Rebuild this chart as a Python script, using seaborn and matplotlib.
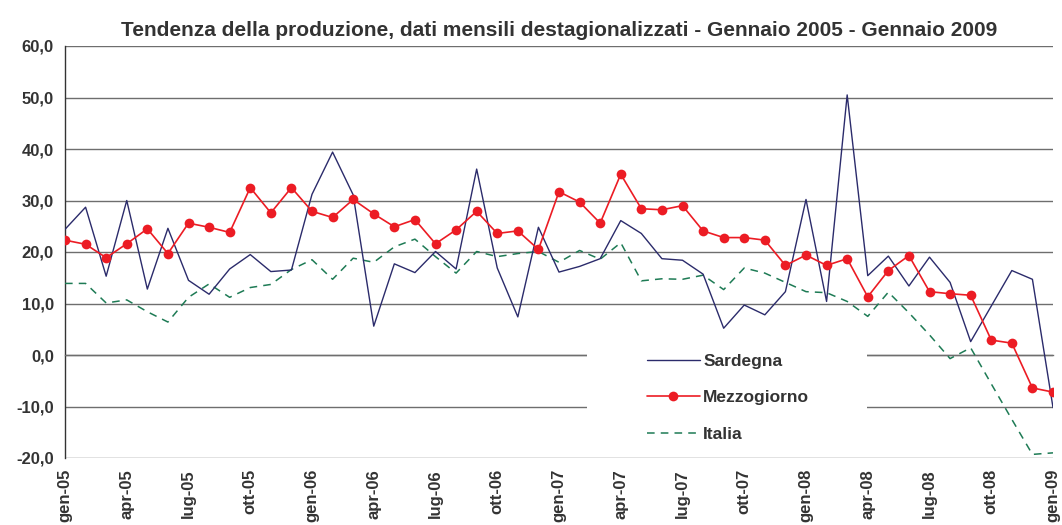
import numpy as np
import pandas as pd
import matplotlib
matplotlib.use("Agg")
import matplotlib.pyplot as plt
from matplotlib.ticker import FixedLocator, FuncFormatter
from matplotlib.patches import Rectangle
import seaborn as sns

months = [
    "gen-05", "feb-05", "mar-05", "apr-05", "mag-05", "giu-05", "lug-05", "ago-05", "set-05", "ott-05", "nov-05", "dic-05",
    "gen-06", "feb-06", "mar-06", "apr-06", "mag-06", "giu-06", "lug-06", "ago-06", "set-06", "ott-06", "nov-06", "dic-06",
    "gen-07", "feb-07", "mar-07", "apr-07", "mag-07", "giu-07", "lug-07", "ago-07", "set-07", "ott-07", "nov-07", "dic-07",
    "gen-08", "feb-08", "mar-08", "apr-08", "mag-08", "giu-08", "lug-08", "ago-08", "set-08", "ott-08", "nov-08", "dic-08",
    "gen-09",
]

sardegna = [24.4, 28.7, 15.3, 30.0, 12.8, 24.6, 14.5, 11.8, 16.7, 19.5, 16.2, 16.5,
            31.2, 39.4, 31.1, 5.6, 17.7, 16.0, 20.1, 16.7, 36.1, 16.9, 7.4, 24.8,
            16.1, 17.2, 18.7, 26.1, 23.6, 18.7, 18.4, 15.7, 5.2, 9.7, 7.8, 12.3,
            30.2, 10.4, 50.5, 15.4, 19.2, 13.4, 19.0, 14.1, 2.6, 9.5, 16.4, 14.7,
            -10.2]

mezzogiorno = [22.3, 21.5, 18.9, 21.6, 24.5, 19.7, 25.6, 24.8, 23.8, 32.5, 27.6, 32.5,
               27.9, 26.7, 30.2, 27.4, 24.9, 26.3, 21.6, 24.3, 27.9, 23.6, 24.1, 20.5,
               31.7, 29.7, 25.6, 35.1, 28.4, 28.2, 29.0, 24.1, 22.8, 22.8, 22.3, 17.4,
               19.4, 17.4, 18.7, 11.3, 16.4, 19.3, 12.3, 11.9, 11.6, 2.9, 2.3, -6.4,
               -7.2]

italia = [13.9, 13.9, 10.1, 10.7, 8.4, 6.4, 11.2, 13.8, 11.2, 13.1, 13.7, 16.6,
          18.5, 14.7, 18.8, 18.0, 21.0, 22.5, 19.1, 15.9, 20.1, 19.1, 19.7, 20.1,
          18.0, 20.3, 18.6, 21.8, 14.4, 14.8, 14.7, 15.5, 12.7, 16.9, 15.9, 14.1,
          12.3, 12.1, 10.4, 7.5, 12.2, 8.2, 3.9, -0.7, 1.4, -5.6, -12.5, -19.3,
          -19.0]

series_names = ["Sardegna", "Mezzogiorno", "Italia"]
y_ticks = [-20, -10, 0, 10, 20, 30, 40, 50, 60]
title = "Tendenza della produzione, dati mensili destagionalizzati - Gennaio 2005 - Gennaio 2009"

sns.set_style("white")
plt.rcParams["font.family"] = ["Liberation Sans", "DejaVu Sans"]
plt.rcParams["font.weight"] = "bold"

txt = "#333333"
grid_c = "#6e6e6e"

df = pd.DataFrame({"pos": np.arange(len(months)), "mese": months,
                   "Sardegna": sardegna, "Mezzogiorno": mezzogiorno, "Italia": italia})

fig = plt.figure(figsize=(10.62, 5.25), dpi=100)
ax = fig.add_axes([65 / 1062, 67 / 525, 988 / 1062, 412 / 525])
ax.set_axisbelow(True)

sns.lineplot(data=df, x="pos", y="Sardegna", ax=ax, color="#2b2b6b", linewidth=1.0,
             label=series_names[0], zorder=4)
sns.lineplot(data=df, x="pos", y="Mezzogiorno", ax=ax, color="#ec1c24", linewidth=1.2,
             marker="o", markersize=7, markeredgewidth=0, label=series_names[1], zorder=5)
sns.lineplot(data=df, x="pos", y="Italia", ax=ax, color="#1e7b55", linewidth=1.1,
             linestyle=(0, (5, 4)), label=series_names[2], zorder=3)

ax.set_xlim(0, len(months) - 1)
ax.set_ylim(y_ticks[0], y_ticks[-1])
ax.set_xlabel("")
ax.set_ylabel("")

# y axis
ax.yaxis.set_major_locator(FixedLocator(y_ticks))
ax.yaxis.set_major_formatter(FuncFormatter(lambda v, p: f"{v:.1f}".replace(".", ",")))
ax.tick_params(axis="y", length=5, width=1, color="#333333", direction="out",
               labelsize=12, labelcolor=txt, pad=3)
for lab in ax.get_yticklabels():
    lab.set_fontweight("bold")
ax.grid(axis="y", color=grid_c, linewidth=1.0)
ax.grid(axis="x", visible=False)

# x axis at zero with monthly ticks
ax.spines["bottom"].set_position(("data", 0))
ax.spines["bottom"].set_color(grid_c)
ax.spines["bottom"].set_linewidth(1.0)
ax.spines["top"].set_visible(False)
ax.spines["right"].set_visible(False)
ax.spines["left"].set_color("#333333")
ax.spines["left"].set_linewidth(1.0)
ax.xaxis.set_major_locator(FixedLocator(df["pos"].tolist()))
ax.tick_params(axis="x", length=4, width=1, color="#444444", direction="out", labelbottom=False)

# labels at bottom every three months
sec = ax.secondary_xaxis("bottom")
sec.set_xticks(df["pos"].tolist()[::3])
sec.set_xticklabels(months[::3], rotation=90, fontsize=12, fontweight="bold", color=txt)
sec.tick_params(axis="x", length=0, pad=8)
sec.spines["bottom"].set_visible(False)

# legend background box
ax.add_patch(Rectangle((0.528, 0.015), 0.284, 0.272, transform=ax.transAxes,
                       facecolor="white", edgecolor="none", zorder=2.7))
handles, labels = ax.get_legend_handles_labels()
leg = ax.legend(handles, labels, loc="upper left", bbox_to_anchor=(0.589, 0.253),
                frameon=False, borderpad=0, fontsize=12.5, labelspacing=1.22,
                handlelength=3.05, handletextpad=0.2, borderaxespad=0)
for t in leg.get_texts():
    t.set_color(txt)
    t.set_fontweight("bold")
leg.set_zorder(6)

ax.set_title(title, fontsize=15, fontweight="bold", color=txt, pad=7)

fig.savefig("out.png", dpi=100)
